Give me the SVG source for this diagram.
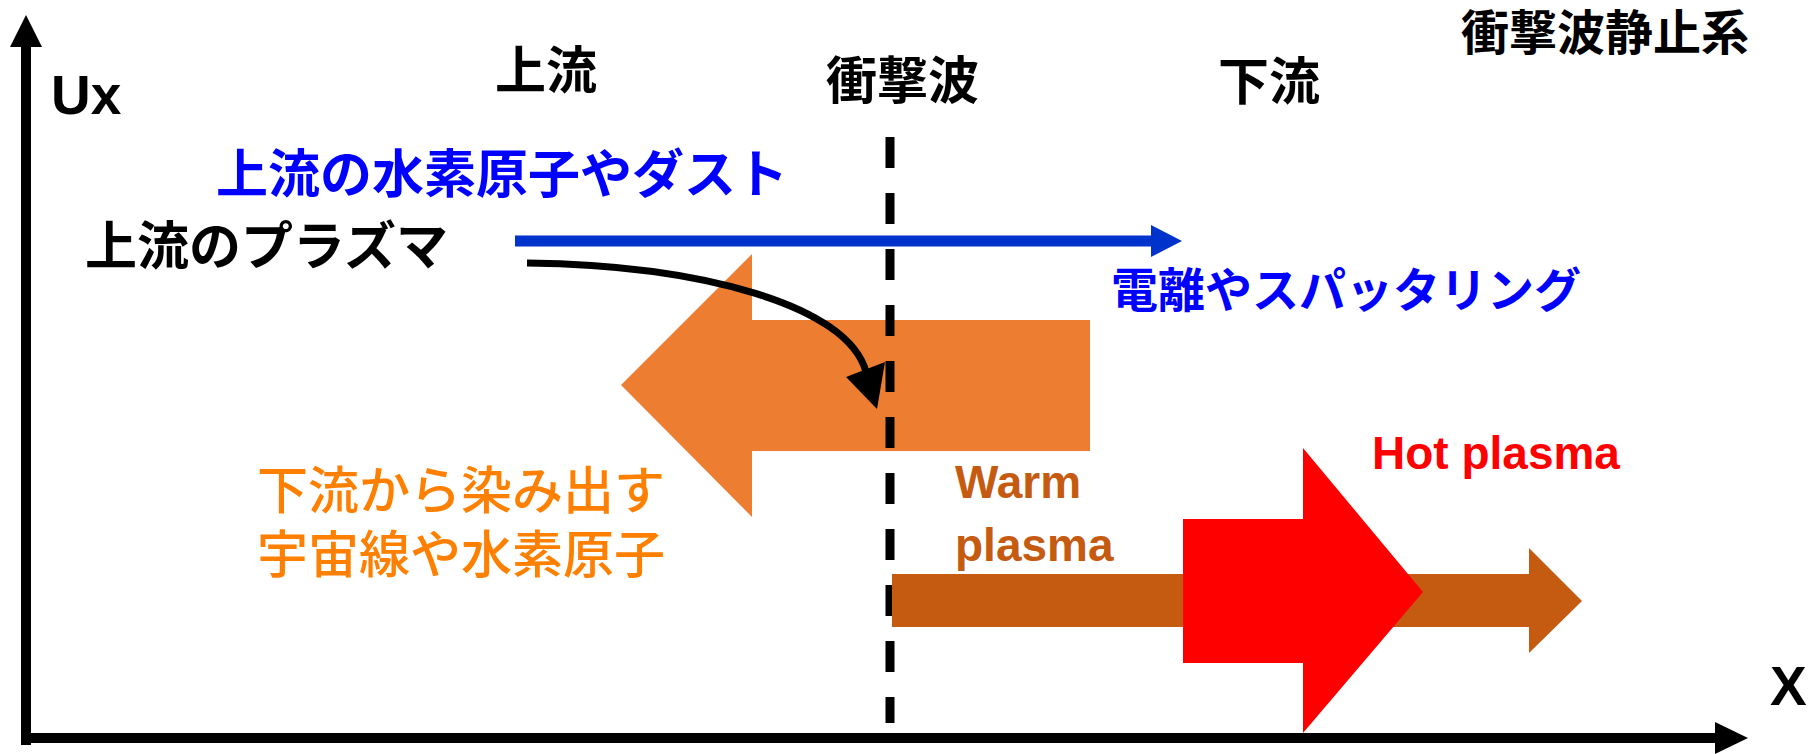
<svg xmlns="http://www.w3.org/2000/svg" width="1820" height="754" viewBox="0 0 1820 754">
<style>
.jp{font-family:"Noto Sans CJK JP","Noto Sans CJK SC",sans-serif}
.lat{font-family:"Liberation Sans",Arial,sans-serif;font-weight:bold}
.b{font-weight:bold}
</style>
<rect width="1820" height="754" fill="#fff"/>
<g id="axes">
<line x1="26" y1="44" x2="26" y2="745" stroke="#000" stroke-width="10"/>
<polygon points="26,15 42,47 10,47" fill="#000"/>
<line x1="21" y1="738" x2="1717" y2="738" stroke="#000" stroke-width="10"/>
<polygon points="1748,738 1715,722 1715,754" fill="#000"/>
<text class="lat" x="51" y="114" font-size="55">Ux</text>
<text class="lat" x="1770" y="705" font-size="55">X</text>
</g>
<g id="titles" class="jp b" fill="#000">
<text x="1461" y="50" font-size="48">衝撃波静止系</text>
<text x="495" y="89" font-size="51">上流</text>
<text x="826" y="99" font-size="51">衝撃波</text>
<text x="1218" y="100" font-size="51">下流</text>
</g>
<g id="backflow">
<polygon points="621,385 752,254 752,320 1090,320 1090,451 752,451 752,517" fill="#ED7D31"/>
<text class="jp" fill="#FF8000" font-size="51" font-weight="500"><tspan x="257" y="509">下流から染み出す</tspan><tspan x="257" y="573">宇宙線や水素原子</tspan></text>
</g>
<g id="shock">
<line x1="890" y1="137" x2="890" y2="723" stroke="#000" stroke-width="9" stroke-dasharray="31 25"/>
</g>
<g id="warm">
<polygon points="892,574 1529,574 1529,548 1582,601 1529,653 1529,627 892,627" fill="#C55A11"/>
<text class="lat" fill="#C55A11" font-size="46"><tspan x="955" y="498">Warm</tspan><tspan x="955" y="561">plasma</tspan></text>
</g>
<g id="hot">
<polygon points="1183,519 1303,519 1303,448 1423,592 1303,733 1303,663 1183,663" fill="#FF0000"/>
<text class="lat" fill="#FF0000" x="1372" y="469" font-size="46">Hot plasma</text>
</g>
<g id="upstream-plasma">
<text class="jp b" fill="#000" x="85" y="265" font-size="52">上流のプラズマ</text>
</g>
<g id="neutrals">
<text class="jp b" fill="#0000FF" x="216" y="193" font-size="52">上流の水素原子やダスト</text>
<text class="jp b" fill="#0000FF" x="1111" y="307" font-size="47">電離やスパッタリング</text>
</g>
<g id="connectors">
<line x1="515" y1="241" x2="1153" y2="241" stroke="#0033CC" stroke-width="11"/>
<polygon points="1182,241 1151,225 1151,257" fill="#0033CC"/>
<path d="M527,263 C700,265 848,305 866,372" fill="none" stroke="#000" stroke-width="7"/>
<polygon points="846,377 885,362 877,409" fill="#000"/>
</g>
</svg>
